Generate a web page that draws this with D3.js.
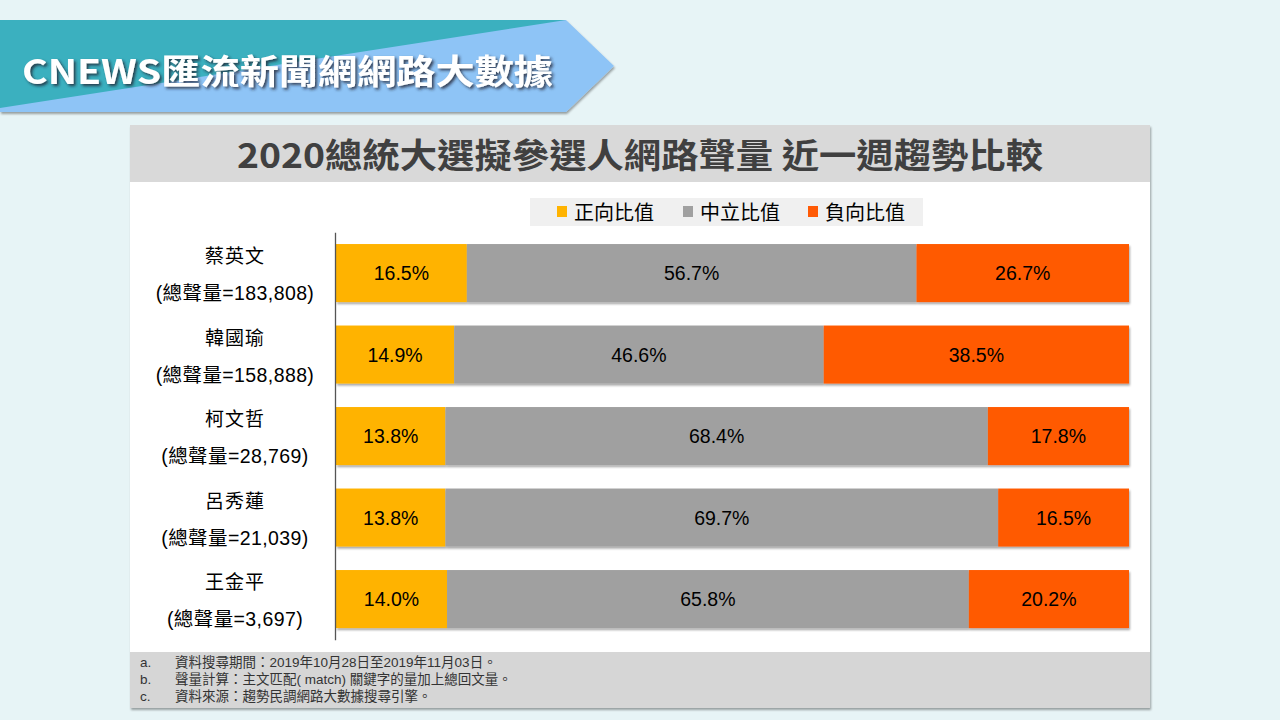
<!DOCTYPE html>
<html><head><meta charset="utf-8">
<script src="https://cdn.jsdelivr.net/npm/d3@7"></script>
<style>
html,body{margin:0;padding:0;background:#e7f4f6;}
svg{display:block;}
</style></head>
<body>
<svg id="chart" width="1280" height="720"></svg>
<script>
const candidates = ["蔡英文","韓國瑜","柯文哲","呂秀蓮","王金平"];
const totals = ["183,808","158,888","28,769","21,039","3,697"];
const positive = [16.5,14.9,13.8,13.8,14.0];
const neutral = [56.7,46.6,68.4,69.7,65.8];
const negative = [26.7,38.5,17.8,16.5,20.2];
const seriesNames = ["正向比值","中立比值","負向比值"];
const seriesColors = ["#FFB300","#A0A0A0","#FF5A05"];
const footnotes = [["a.","資料搜尋期間：2019年10月28日至2019年11月03日。"],["b.","聲量計算：主文匹配( match) 關鍵字的量加上總回文量。"],["c.","資料來源：趨勢民調網路大數據搜尋引擎。"]];

const svg = d3.select("#chart");
const defs = svg.append("defs");
const sh = defs.append("filter").attr("id","ds").attr("x","-5%").attr("y","-10%").attr("width","115%").attr("height","140%");
sh.append("feDropShadow").attr("dx",1).attr("dy",2).attr("stdDeviation",1.2).attr("flood-color","#000").attr("flood-opacity",0.35);
const tsh = defs.append("filter").attr("id","ts").attr("x","-5%").attr("y","-20%").attr("width","115%").attr("height","150%");
tsh.append("feDropShadow").attr("dx",2).attr("dy",2).attr("stdDeviation",1.5).attr("flood-color","#223").attr("flood-opacity",0.8);

// background
svg.append("rect").attr("width",1280).attr("height",720).attr("fill","#e7f4f6");

// header banner
const banner = svg.append("g");
banner.append("path").attr("d","M0,20 L566,20 L614,66 L566,112 L0,112 Z").attr("fill","#8ec4f6").attr("filter","url(#ds)");
banner.append("path").attr("d","M0,20 L566,20 L0,108 Z").attr("fill","#3bb0bf");
banner.append("text").attr("x",22).attr("y",84).attr("fill","#fff").attr("filter","url(#ts)")
  .attr("font-family","'Liberation Sans Narrow','Noto Sans CJK TC',sans-serif").attr("font-weight","bold")
  .attr("font-size",34).attr("textLength",531).attr("lengthAdjust","spacingAndGlyphs")
  .text("CNEWS匯流新聞網網路大數據");

// panel
svg.append("rect").attr("x",130).attr("y",125).attr("width",1020).attr("height",583).attr("fill","#fff").attr("filter","url(#ds)");
svg.append("rect").attr("x",130).attr("y",125).attr("width",1020).attr("height",57).attr("fill","#d9d9d9");
svg.append("rect").attr("x",130).attr("y",652).attr("width",1020).attr("height",56).attr("fill","#d6d6d6");
svg.append("text").attr("x",640).attr("y",168).attr("text-anchor","middle").attr("fill","#404040")
  .attr("font-family","'Noto Sans CJK TC',sans-serif").attr("font-weight","bold").attr("font-size",34)
  .attr("textLength",806).attr("lengthAdjust","spacingAndGlyphs")
  .text("2020總統大選擬參選人網路聲量 近一週趨勢比較");

// legend
svg.append("rect").attr("x",530).attr("y",198).attr("width",393).attr("height",28).attr("fill","#f0f0f0");
const legX = [557,683,808];
const lg = svg.append("g").selectAll("g").data(seriesNames).join("g").attr("transform",(d,i)=>`translate(${legX[i]},0)`);
lg.append("rect").attr("x",0).attr("y",206).attr("width",10).attr("height",11).attr("fill",(d,i)=>seriesColors[i]);
lg.append("text").attr("x",17).attr("y",220).attr("font-family","'Noto Sans CJK TC',sans-serif").attr("font-size",20).attr("fill","#000").text(d=>d);

// scales
const x = d3.scaleLinear().domain([0,100]).range([336,1129]);
const y = d3.scaleBand().domain(candidates).range([232.3,639.8]).paddingInner(0.288).paddingOuter(0.144);

const rows = candidates.map((c,i)=>({c, vals:[positive[i],neutral[i],negative[i]]}));
const segs = [];
rows.forEach(r=>{let acc=0; r.vals.forEach((v,k)=>{segs.push({c:r.c,k,v,x0:acc,x1:k===2?100:acc+v}); acc+=v;});});

const bars = svg.append("g");
bars.selectAll("g.row").data(rows).join("g").attr("filter","url(#ds)")
  .each(function(r){
    d3.select(this).selectAll("rect").data(segs.filter(s=>s.c===r.c)).join("rect")
      .attr("x",d=>x(d.x0)).attr("y",d=>y(d.c)).attr("width",d=>x(d.x1)-x(d.x0)).attr("height",y.bandwidth())
      .attr("fill",d=>seriesColors[d.k]);
  });
svg.append("g").selectAll("text").data(segs).join("text")
  .attr("x",d=>(x(d.x0)+x(d.x1))/2).attr("y",d=>y(d.c)+y.bandwidth()/2+7).attr("text-anchor","middle")
  .attr("font-family","'Liberation Sans',Arial,sans-serif").attr("font-size",19.5).attr("fill","#000")
  .text(d=>d.v.toFixed(1)+"%");

// axis
const yAxis = d3.axisLeft(y).tickSize(0).tickFormat("");
const ax = svg.append("g").attr("transform","translate(335,0)").call(yAxis);
ax.select(".domain").attr("stroke","#555").attr("stroke-width",1.3);

// category labels
const lab = svg.append("g").selectAll("g").data(candidates).join("g");
lab.append("text").attr("x",235).attr("y",d=>y(d)+19).attr("text-anchor","middle")
  .attr("font-family","'Noto Sans CJK TC',sans-serif").attr("font-size",19).attr("letter-spacing",1).attr("fill","#000").text(d=>d);
lab.append("text").attr("x",235).attr("y",(d)=>y(d)+56).attr("text-anchor","middle")
  .attr("font-family","'Liberation Sans','Noto Sans CJK TC',sans-serif").attr("font-size",19.5).attr("letter-spacing",0.4).attr("fill","#000")
  .text((d,i)=>"(總聲量="+totals[i]+")");

// footnotes
const fn = svg.append("g").selectAll("g").data(footnotes).join("g");
fn.append("text").attr("x",140).attr("y",(d,i)=>667+i*17).attr("font-family","'Liberation Sans','Noto Sans CJK TC',sans-serif").attr("font-size",13.5).attr("fill","#333").text(d=>d[0]);
fn.append("text").attr("x",175).attr("y",(d,i)=>667+i*17).attr("font-family","'Liberation Sans','Noto Sans CJK TC',sans-serif").attr("font-size",13.5).attr("fill","#333").text(d=>d[1]);
</script>
</body></html>
